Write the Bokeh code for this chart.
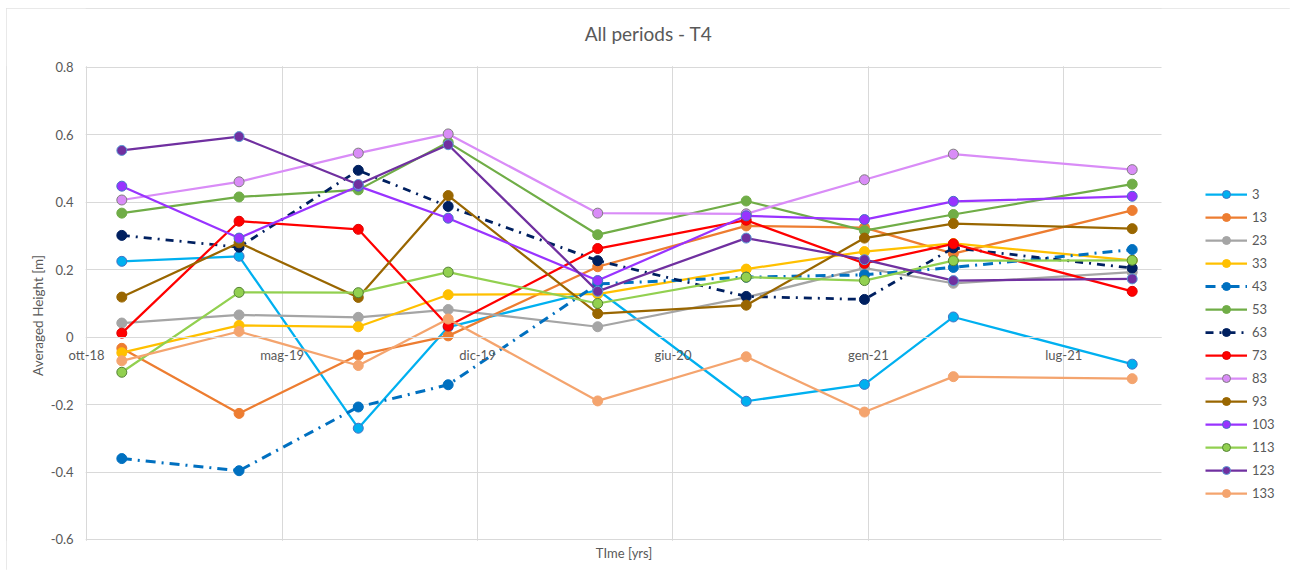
import math
import pandas as pd
from bokeh.plotting import figure
from bokeh.models import (Range1d, FixedTicker, CustomJSTickFormatter, Legend,
                          LegendItem, BoxAnnotation, Label)
from bokeh.embed import file_html
from bokeh.resources import INLINE

# ---------------- data ----------------
dates = ["2018-12-03", "2019-04-02", "2019-08-02", "2019-11-02", "2020-04-03",
         "2020-09-02", "2021-01-01", "2021-04-02", "2021-10-02"]

s3 = [0.225, 0.24, -0.27, 0.03, 0.14, -0.19, -0.14, 0.06, -0.08]
s13 = [-0.033, -0.226, -0.053, 0.004, 0.209, 0.33, 0.325, 0.248, 0.376]
s23 = [0.042, 0.066, 0.059, 0.082, 0.031, 0.118, 0.205, 0.16, 0.193]
s33 = [-0.046, 0.035, 0.031, 0.126, 0.128, 0.202, 0.254, 0.278, 0.228]
s43 = [-0.36, -0.396, -0.207, -0.141, 0.158, 0.178, 0.185, 0.207, 0.26]
s53 = [0.368, 0.416, 0.437, 0.578, 0.304, 0.404, 0.316, 0.364, 0.454]
s63 = [0.302, 0.267, 0.495, 0.388, 0.227, 0.121, 0.112, 0.265, 0.205]
s73 = [0.012, 0.344, 0.32, 0.033, 0.263, 0.347, 0.219, 0.277, 0.136]
s83 = [0.407, 0.461, 0.546, 0.603, 0.368, 0.366, 0.467, 0.543, 0.497]
s93 = [0.119, 0.28, 0.118, 0.42, 0.07, 0.095, 0.294, 0.337, 0.322]
s103 = [0.448, 0.294, 0.448, 0.353, 0.168, 0.36, 0.349, 0.403, 0.418]
s113 = [-0.104, 0.133, 0.132, 0.193, 0.1, 0.178, 0.168, 0.227, 0.228]
s123 = [0.554, 0.595, 0.453, 0.571, 0.136, 0.294, 0.23, 0.168, 0.173]
s133 = [-0.07, 0.017, -0.084, 0.054, -0.189, -0.058, -0.222, -0.117, -0.123]

series_names = ["3", "13", "23", "33", "43", "53", "63", "73", "83", "93",
                "103", "113", "123", "133"]
series_values = [s3, s13, s23, s33, s43, s53, s63, s73, s83, s93, s103, s113,
                 s123, s133]

tick_dates = ["2018-10-28", "2019-05-16", "2019-12-02", "2020-06-19",
              "2021-01-05", "2021-07-24"]
x_start, x_end = "2018-10-28", "2021-11-01"     # visible plot area
pad_left_days, pad_right_days = 82, 132           # room for y labels / legend
y_ticks = [-0.6, -0.4, -0.2, 0.0, 0.2, 0.4, 0.6, 0.8]
y_lo, y_hi = -0.6, 0.8                            # visible plot area
y_pad_lo, y_pad_hi = 0.092, 0.175                 # room for titles

title_text = "All periods - T4"
x_title = "TIme [yrs]"
y_title = "Averaged Height [m]"

# ---------------- styles ----------------
line_colors = ["#00B0F0", "#ED7D31", "#A5A5A5", "#FFC000", "#0070C0", "#70AD47",
               "#002060", "#FF0000", "#D98CF7", "#996600", "#9933FF", "#92D050",
               "#7030A0", "#F4A46E"]
edge_colors = ["#4472C4", "#ED7D31", "#A5A5A5", "#FFC000", "#0070C0", "#70AD47",
               "#002060", "#E00000", "#7F7F7F", "#996600", "#4472C4", "#548235",
               "#5B9BD5", "#F4A46E"]
dashes = ["solid", "solid", "solid", "solid", "10 6 2 6", "solid", "8 6 2 6",
          "solid", "solid", "solid", "solid", "solid", "solid", "solid"]
widths = [2.25] * 14
widths[4] = 3
widths[6] = 2.75

FONT = "Lato"
GREY = "#595959"
GRID = "#d9d9d9"


def ms(d):
    return pd.Timestamp(d).tz_localize("UTC").timestamp() * 1000.0


x = pd.to_datetime(dates)
full_start = pd.Timestamp(x_start) - pd.Timedelta(days=pad_left_days)
full_end = pd.Timestamp(x_end) + pd.Timedelta(days=pad_right_days)

p = figure(width=1290, height=570, output_backend="svg", toolbar_location=None,
           x_axis_type="datetime",
           x_range=Range1d(full_start, full_end),
           y_range=Range1d(y_lo - y_pad_lo, y_hi + y_pad_hi),
           min_border_left=6, min_border_right=0, min_border_top=8,
           min_border_bottom=0,
           background_fill_color="white", border_fill_color="white")
p.title.visible = False
p.outline_line_color = GRID
p.outline_line_width = 1

# grids
p.xgrid.ticker = FixedTicker(ticks=[ms(d) for d in tick_dates])
p.ygrid.ticker = FixedTicker(ticks=y_ticks)
p.xgrid.bounds = (ms(full_start), ms(full_end))
p.ygrid.bounds = (-1.0, 1.0)
p.xgrid.grid_line_color = GRID
p.ygrid.grid_line_color = GRID
p.xgrid.grid_line_width = 1
p.ygrid.grid_line_width = 1

# mask grid lines outside the visible plot area
eps_y = 0.004
mask = dict(fill_color="white", fill_alpha=1, line_color=None, level="underlay")
p.add_layout(BoxAnnotation(right=ms(pd.Timestamp(x_start) - pd.Timedelta(days=1)), **mask))
p.add_layout(BoxAnnotation(left=ms(x_end), **mask))
p.add_layout(BoxAnnotation(bottom=y_hi + eps_y, **mask))
p.add_layout(BoxAnnotation(top=y_lo - eps_y, **mask))

# x axis crossing at y=0
xa = p.xaxis[0]
xa.ticker = FixedTicker(ticks=[ms(d) for d in tick_dates])
xa.formatter = CustomJSTickFormatter(code="""
const m = ["gen","feb","mar","apr","mag","giu","lug","ago","set","ott","nov","dic"];
const d = new Date(tick);
return m[d.getUTCMonth()] + "-" + String(d.getUTCFullYear()).slice(2);
""")
xa.fixed_location = 0
xa.bounds = (ms(x_start), ms(x_end))
xa.axis_line_color = GRID
xa.major_tick_line_color = None
xa.minor_tick_line_color = None
xa.major_tick_out = 0
xa.major_tick_in = 0
xa.major_label_standoff = 10
xa.major_label_text_font = FONT
xa.major_label_text_font_size = "13px"
xa.major_label_text_color = GREY

# y axis at the start of the visible area
ya = p.yaxis[0]
ya.fixed_location = ms(x_start)
ya.bounds = (y_lo, y_hi)
ya.ticker = FixedTicker(ticks=y_ticks)
ya.formatter = CustomJSTickFormatter(code="return (Math.round(tick*10)/10).toString();")
ya.axis_line_color = None
ya.major_tick_line_color = None
ya.minor_tick_line_color = None
ya.major_tick_out = 0
ya.major_tick_in = 0
ya.major_label_standoff = 13
ya.major_label_text_font = FONT
ya.major_label_text_font_size = "13px"
ya.major_label_text_color = GREY

# titles
x_mid_full = ms(full_start + (full_end - full_start) / 2)
x_mid_vis = ms(pd.Timestamp(x_start) + (pd.Timestamp(x_end) - pd.Timestamp(x_start)) / 2)
p.add_layout(Label(x=x_mid_full, y=y_hi, y_offset=34, text=title_text,
                   text_align="center", text_baseline="middle", text_font=FONT,
                   text_font_size="19px", text_color=GREY))
p.add_layout(Label(x=x_mid_vis, y=y_lo, y_offset=-14, text=x_title,
                   text_align="center", text_baseline="middle", text_font=FONT,
                   text_font_size="13px", text_color=GREY))
p.add_layout(Label(x=ms(x_start), y=(y_lo + y_hi) / 2, x_offset=-49, y_offset=-12,
                   text=y_title, angle=math.pi / 2, text_align="center",
                   text_baseline="middle", text_font=FONT,
                   text_font_size="13.5px", text_color=GREY))

items = []
for name, vals, lc, ec, dsh, w in zip(series_names, series_values, line_colors,
                                      edge_colors, dashes, widths):
    lr = p.line(x, vals, line_color=lc, line_width=w, line_dash=dsh)
    sr = p.scatter(x, vals, size=10, fill_color=lc, line_color=ec, line_width=1)
    items.append(LegendItem(label=name, renderers=[lr, sr]))

legend = Legend(items=items, location=(1199, 67), glyph_width=42, glyph_height=20,
                label_height=20, spacing=3, padding=0, margin=0,
                border_line_color=None, background_fill_alpha=0,
                label_text_font=FONT, label_text_font_size="13px",
                label_text_color=GREY, label_standoff=5)
p.add_layout(legend)

open("out.html", "w").write(file_html(p, INLINE))
